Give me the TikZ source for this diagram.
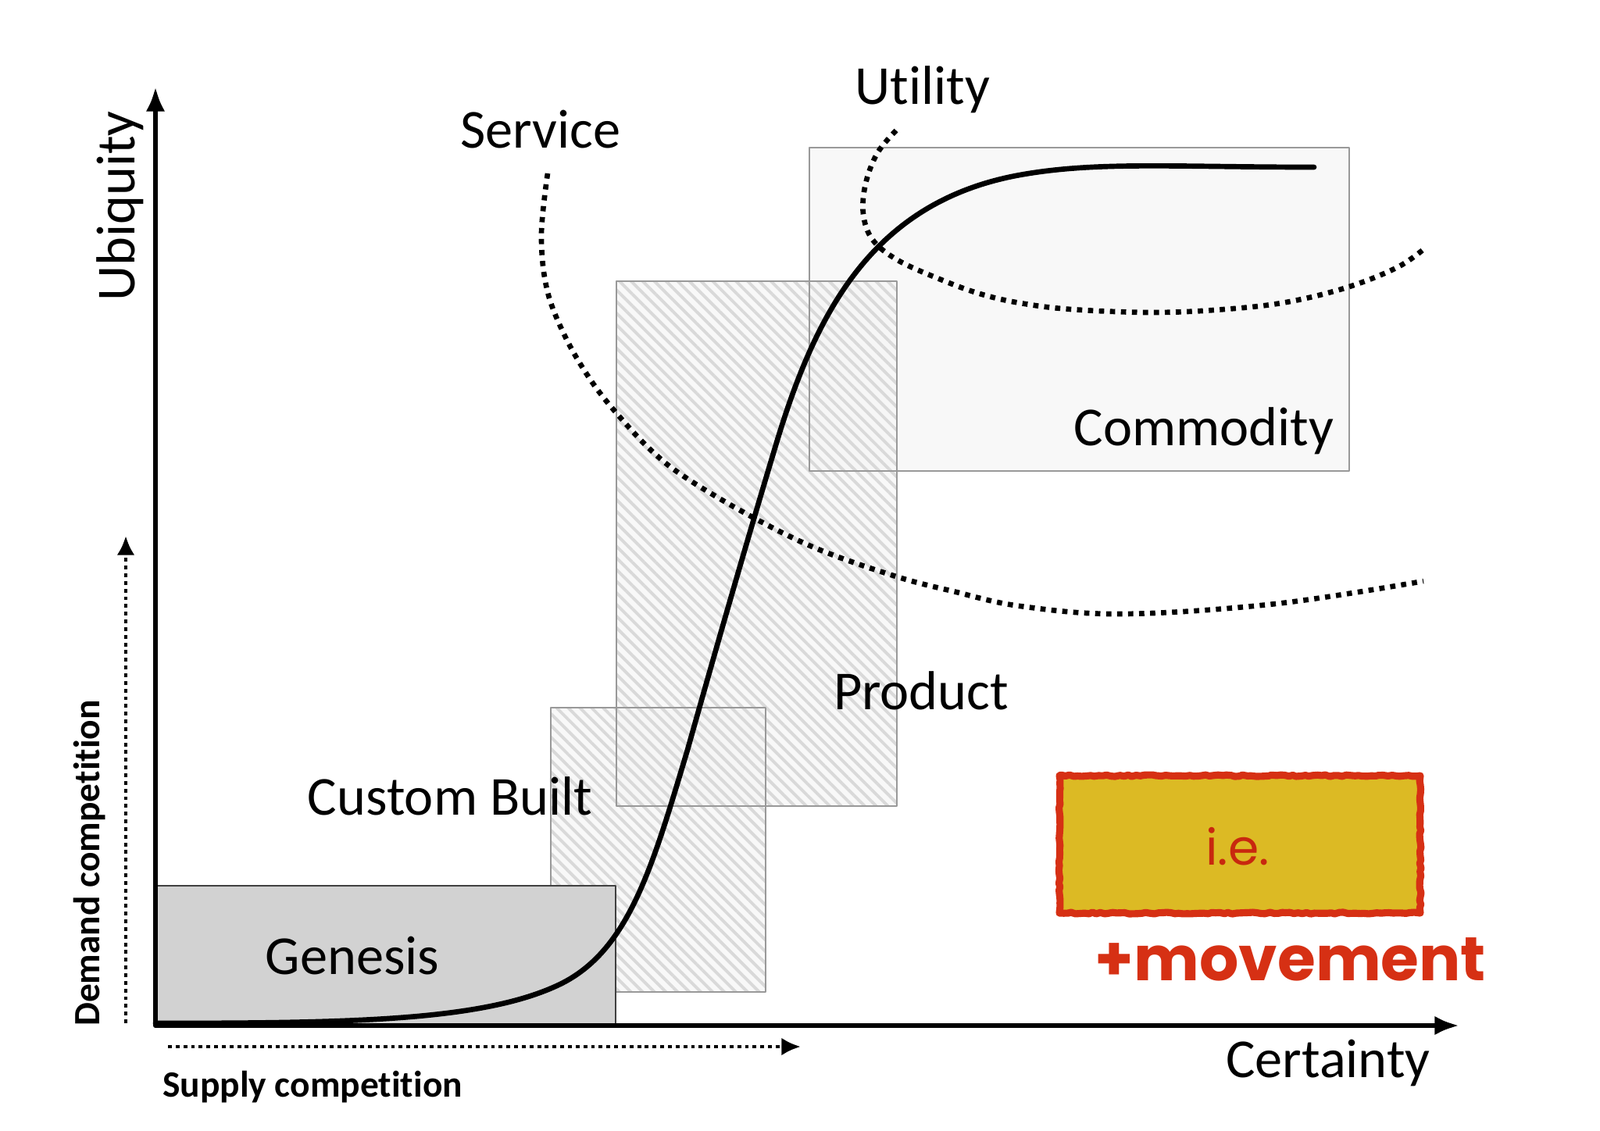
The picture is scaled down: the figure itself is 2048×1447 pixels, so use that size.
\documentclass[tikz,border=0pt]{standalone}
\usepackage{fontspec}
\setmainfont{Carlito}[Ligatures=NoCommon]
\newfontfamily\chalkfont{Poppins}
\usetikzlibrary{arrows.meta,patterns.meta,decorations.pathmorphing}

\begin{document}
\begin{tikzpicture}[x=0.01cm, y=-0.01cm, >=Latex, line join=round]

% ------------------------------------------------
% Styles
% ------------------------------------------------
\tikzset{
    axis/.style={<->, line width=1.8pt, black, >={Latex[length=9pt,width=7pt]}},
    compete/.style={->, line width=1.4pt, black, dash pattern=on 1.4pt off 1.4pt,
        >={Latex[length=7pt,width=6.5pt]}},
    stage/.style={fill=gray!8, fill opacity=0.7},
    hatch/.style={pattern={Lines[angle=-45,distance=3pt,line width=1.1pt]},
        pattern color=gray!30},
    frame/.style={draw=gray!80, line width=0.7pt},
    sep/.style={line width=1.9pt, black, dash pattern=on 1.9pt off 2.1pt},
    curve/.style={line width=1.9pt, black, line cap=round},
    lbl/.style={font=\fontsize{20}{24}\selectfont, inner sep=0pt},
    small/.style={font=\fontsize{13.5}{16}\selectfont\bfseries, inner sep=0pt},
}

\useasboundingbox (0,0) rectangle (2048,1447);

% ------------------------------------------------
% Main coordinates
% ------------------------------------------------
\coordinate (O)    at (199,1313);   % origin
\coordinate (Ytip) at (199,111);
\coordinate (Xtip) at (1868,1313);

\coordinate (G1) at (199,1134);   \coordinate (G2) at (788,1313);   % genesis
\coordinate (C1) at (705,906);    \coordinate (C2) at (980,1270);   % custom built
\coordinate (P1) at (789,360);    \coordinate (P2) at (1148,1032);  % product
\coordinate (M1) at (1036,189);   \coordinate (M2) at (1727,603);   % commodity
\coordinate (E1) at (1356,993);   \coordinate (E2) at (1818,1169);  % i.e. box

% ------------------------------------------------
% Stage boxes
% ------------------------------------------------
\fill[stage] (M1) rectangle (M2);
\fill[stage] (C1) rectangle (C2);
\fill[hatch] (C1) rectangle (C2);
\fill[stage] (P1) rectangle (P2);
\fill[hatch] (P1) rectangle (P2);

\draw[frame] (M1) rectangle (M2);
\draw[frame] (C1) rectangle (C2);
\draw[frame] (P1) rectangle (P2);

% genesis sits on top
\draw[fill=gray!35, draw=black!75, line width=0.8pt] (G1) rectangle (G2);

% ------------------------------------------------
% Service / utility boundaries
% ------------------------------------------------
\draw[sep] plot[smooth, tension=0.6] coordinates {
    (701,222) (693,300) (700,370) (723,430) (755,485) (790,530) (835,578)
    (880,613) (963,662) (1047,703) (1147,738) (1220,757) (1306,776)
    (1437,786) (1633,773) (1822,744)};

\draw[sep] plot[smooth, tension=0.6] coordinates {
    (1147,167) (1123,196) (1108,235) (1105,274) (1117,307) (1149,333)
    (1202,357) (1254,376) (1306,388) (1371,396) (1476,400) (1567,396)
    (1646,387) (1724,368) (1789,342) (1826,316)};

% ------------------------------------------------
% Evolution curve
% ------------------------------------------------
\draw[curve] (199,1310) .. controls (450,1310) and (620,1307) .. (717,1260)
    .. controls (805,1217) and (835,1110) .. (880,960)
    .. controls (925,800) and (960,680) .. (990,580)
    .. controls (1040,410) and (1110,262) .. (1300,225)
    .. controls (1400,206) and (1500,214) .. (1682,214);

% ------------------------------------------------
% Axes
% ------------------------------------------------
\draw[axis] (Ytip) -- (O) -- (Xtip);

\coordinate (D0) at (161,1310);  \coordinate (D1) at (161,686);
\coordinate (S0) at (215,1340);  \coordinate (S1) at (1025,1340);
\draw[compete] (D0) -- (D1);
\draw[compete] (S0) -- (S1);

% ------------------------------------------------
% Labels
% ------------------------------------------------
\node[lbl, rotate=90] (ubiq) at (154,264)  {Ubiquity};
\node[lbl] (cert)  at (1700,1361) {Certainty};
\node[lbl] (serv)  at (692,166)   {Service};
\node[lbl] (util)  at (1181,115)  {Utility};
\node[lbl] (comm)  at (1541,552)  {Commodity};
\node[lbl] (prod)  at (1179,884)  {Product};
\node[lbl] (cust)  at (576,1019)  {Custom Built};
\node[lbl] (gen)   at (451,1224)  {Genesis};

\node[small, rotate=90] (dem) at (115,1105) {Demand competition};
\node[small] (sup) at (400,1392) {Supply competition};

% ------------------------------------------------
% i.e. box
% ------------------------------------------------
\draw[fill={rgb,255:red,220;green,186;blue,36},
      draw={rgb,255:red,214;green,48;blue,20}, line width=2.6pt,
      decorate, decoration={random steps, segment length=1.5pt, amplitude=0.3pt}]
    (E1) rectangle (E2);
\node[font=\chalkfont\fontsize{18}{22}\selectfont, text={rgb,255:red,200;green,40;blue,15}]
    (ie) at (1584,1084) {i.e.};
\node[font=\chalkfont\bfseries\fontsize{22.5}{27}\selectfont, text={rgb,255:red,214;green,48;blue,20}]
    (move) at (1652,1228) {+movement};

\end{tikzpicture}
\end{document}
